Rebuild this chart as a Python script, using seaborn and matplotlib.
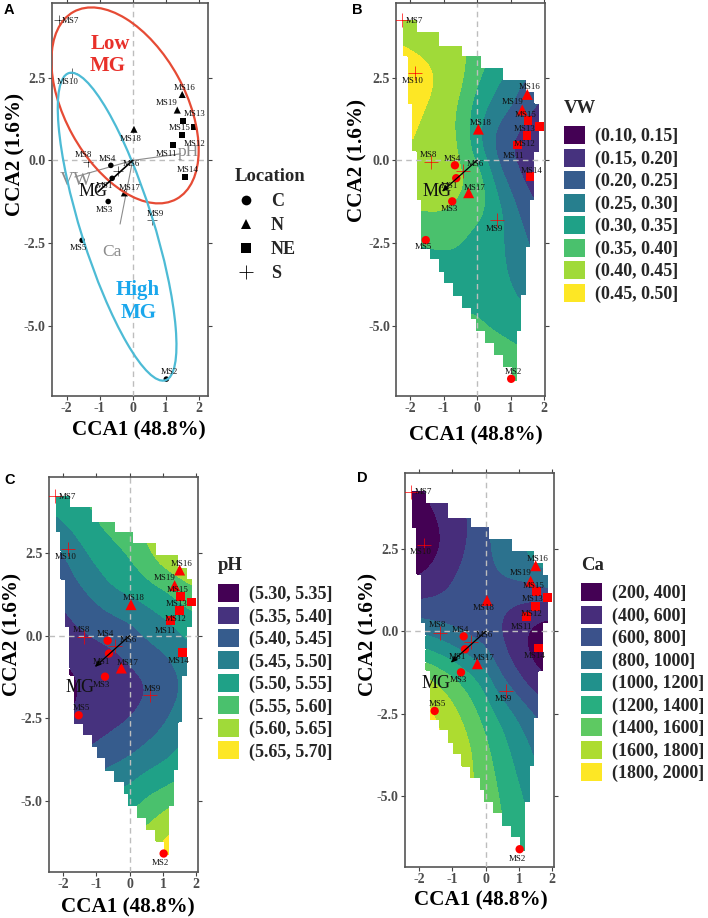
#!/usr/bin/env python3
"""CCA ordination of sampling sites with ordisurf-style surfaces for VW, pH and Ca."""

import numpy as np
import pandas as pd
import matplotlib
matplotlib.use("Agg")
import matplotlib.pyplot as plt
import matplotlib.tri as mtri
from matplotlib.lines import Line2D
from matplotlib.patches import Ellipse, Patch
import seaborn as sns

# sites
sites = ["MS1", "MS2", "MS3", "MS4", "MS5", "MS6", "MS7", "MS8", "MS9", "MS10",
         "MS11", "MS12", "MS13", "MS14", "MS15", "MS16", "MS17", "MS18", "MS19"]
cca1 = [-0.62, 1.02, -0.74, -0.66, -1.53, -0.43, -2.23, -1.36, 0.60, -1.84,
        1.22, 1.49, 1.86, 1.58, 1.52, 1.50, -0.25, 0.04, 1.35]
cca2 = [-0.54, -6.60, -1.24, -0.15, -2.41, -0.31, 4.24, -0.04, -1.80, 2.63,
        0.46, 0.76, 1.02, -0.50, 1.20, 1.99, -0.98, 0.94, 1.52]
location = ["C", "C", "C", "C", "C", "S", "S", "S", "S", "S",
            "NE", "NE", "NE", "NE", "NE", "N", "N", "N", "N"]

# label anchors, one list per panel, same order as sites
labels_a = [(-0.84, -0.78), (1.11, -6.39), (-0.85, -1.50), (-0.77, 0.05), (-1.64, -2.63),
            (-0.05, -0.10), (-1.87, 4.20), (-1.48, 0.17), (0.68, -1.62), (-1.96, 2.37),
            (1.03, 0.19), (1.87, 0.49), (1.87, 1.40), (1.66, -0.29), (1.41, 0.97),
            (1.56, 2.18), (-0.08, -0.84), (-0.06, 0.66), (1.02, 1.72)]
labels_b = [(-0.82, -0.78), (1.10, -6.39), (-0.84, -1.48), (-0.74, 0.04), (-1.60, -2.63),
            (-0.05, -0.10), (-1.86, 4.21), (-1.45, 0.17), (0.53, -2.06), (-1.93, 2.40),
            (1.08, 0.13), (1.42, 0.50), (1.42, 0.96), (1.63, -0.31), (1.45, 1.38),
            (1.56, 2.20), (-0.08, -0.84), (0.12, 1.13), (1.05, 1.76)]
labels_c = [(-0.84, -0.79), (0.93, -6.88), (-0.84, -1.49), (-0.74, 0.05), (-1.45, -2.18),
            (-0.05, -0.12), (-1.87, 4.19), (-1.46, 0.17), (0.68, -1.62), (-1.93, 2.40),
            (1.08, 0.13), (1.39, 0.51), (1.41, 0.95), (1.47, -0.77), (1.44, 1.38),
            (1.56, 2.18), (-0.07, -0.84), (0.11, 1.13), (1.05, 1.75)]
labels_d = [(-0.85, -0.79), (0.94, -6.89), (-0.83, -1.47), (-0.75, 0.05), (-1.45, -2.19),
            (-0.05, -0.11), (-1.87, 4.22), (-1.45, 0.18), (0.53, -2.05), (-1.94, 2.42),
            (1.08, 0.13), (1.38, 0.52), (1.41, 0.97), (1.48, -0.75), (1.43, 1.38),
            (1.56, 2.20), (-0.07, -0.82), (-0.07, 0.70), (1.05, 1.77)]

# environmental vectors
vector_names = ["pH", "VW", "Ca"]
vector_x = [1.45, -1.75, -0.38]
vector_y = [0.20, -0.50, -1.92]
mg_x, mg_y = -1.05, -0.95

# surface nodes
grid_x = [-2.5, -2.0, -1.5, -1.0, -0.5, 0.0, 0.5, 1.0, 1.5, 2.0]
grid_y = [4.5, 3.5, 2.5, 1.5, 0.5, -0.5, -1.5, -2.5, -3.5, -4.5, -5.5, -6.75]

vw_surface = [
    [.430, .425, .420, .415, .410, .390, .360, .340, .310, .290],
    [.450, .440, .432, .425, .412, .382, .350, .328, .300, .280],
    [.495, .485, .465, .440, .415, .360, .320, .280, .245, .220],
    [.475, .465, .445, .420, .390, .320, .280, .250, .210, .180],
    [.460, .450, .437, .420, .395, .310, .240, .195, .170, .155],
    [.445, .440, .432, .425, .410, .385, .290, .230, .185, .160],
    [.400, .402, .405, .405, .385, .365, .330, .275, .225, .190],
    [.340, .345, .350, .352, .348, .330, .320, .285, .255, .220],
    [.330, .332, .335, .338, .340, .335, .320, .297, .270, .240],
    [.345, .345, .345, .345, .345, .345, .330, .315, .300, .285],
    [.375, .375, .375, .375, .375, .370, .362, .353, .345, .340],
    [.400, .400, .400, .398, .395, .392, .388, .380, .370, .365],
]
ph_surface = [
    [5.52, 5.53, 5.545, 5.58, 5.60, 5.63, 5.65, 5.67, 5.69, 5.70],
    [5.49, 5.505, 5.525, 5.55, 5.57, 5.59, 5.62, 5.64, 5.66, 5.68],
    [5.42, 5.445, 5.485, 5.515, 5.535, 5.553, 5.59, 5.63, 5.655, 5.675],
    [5.39, 5.42, 5.447, 5.475, 5.503, 5.52, 5.535, 5.553, 5.578, 5.605],
    [5.38, 5.39, 5.41, 5.425, 5.44, 5.453, 5.475, 5.495, 5.52, 5.54],
    [5.34, 5.36, 5.375, 5.385, 5.395, 5.412, 5.435, 5.447, 5.47, 5.50],
    [5.31, 5.325, 5.35, 5.365, 5.375, 5.385, 5.395, 5.42, 5.447, 5.475],
    [5.34, 5.35, 5.36, 5.375, 5.387, 5.397, 5.42, 5.44, 5.47, 5.49],
    [5.39, 5.392, 5.397, 5.41, 5.425, 5.44, 5.46, 5.48, 5.505, 5.53],
    [5.44, 5.45, 5.46, 5.47, 5.485, 5.50, 5.525, 5.54, 5.56, 5.58],
    [5.48, 5.50, 5.52, 5.535, 5.545, 5.555, 5.585, 5.61, 5.64, 5.66],
    [5.53, 5.55, 5.57, 5.59, 5.61, 5.63, 5.655, 5.68, 5.70, 5.71],
]
ca_surface = [
    [380, 430, 530, 620, 700, 800, 950, 1100, 1250, 1400],
    [210, 280, 390, 510, 595, 770, 900, 1000, 1150, 1300],
    [170, 240, 350, 490, 625, 770, 860, 965, 1100, 1250],
    [400, 440, 520, 610, 690, 740, 785, 815, 830, 930],
    [770, 745, 710, 700, 680, 650, 590, 490, 430, 380],
    [1250, 1210, 1120, 1010, 890, 795, 620, 450, 320, 260],
    [1800, 1720, 1600, 1470, 1300, 1110, 820, 650, 470, 400],
    [2000, 1920, 1780, 1660, 1500, 1310, 1130, 950, 800, 640],
    [1990, 1950, 1870, 1760, 1630, 1435, 1265, 1100, 950, 800],
    [1950, 1900, 1840, 1750, 1640, 1500, 1335, 1185, 1050, 900],
    [1870, 1830, 1780, 1700, 1620, 1525, 1400, 1265, 1130, 1000],
    [1800, 1770, 1720, 1650, 1580, 1500, 1400, 1290, 1170, 1050],
]

vw_levels = [0.10, 0.15, 0.20, 0.25, 0.30, 0.35, 0.40, 0.45, 0.50]
ph_levels = [5.30, 5.35, 5.40, 5.45, 5.50, 5.55, 5.60, 5.65, 5.70]
ca_levels = [200, 400, 600, 800, 1000, 1200, 1400, 1600, 1800, 2000]

# stair-shaped outline of the fitted surface
hull_top = 4.24
hull_left_x = [-2.22, -2.07, -1.93, -1.80, -1.67, -1.40, -1.12, -0.98, -0.72, -0.45, -0.17, -0.04, 0.23, 0.51, 0.78, 1.05]
hull_left_end = [3.15, 1.70, 0.28, -1.20, -2.66, -2.99, -3.36, -3.71, -4.09, -4.44, -4.79, -5.15, -5.51, -5.88, -6.23, -6.65]
hull_right_x = [-1.81, -1.14, -0.45, 0.10, 0.77, 1.45, 1.70, 1.85, 1.70, 1.57, 1.45, 1.31, 1.17]
hull_right_end = [3.88, 3.43, 3.15, 2.78, 2.43, 2.05, 1.70, 0.26, -1.20, -2.61, -4.07, -5.15, -6.65]

W, H = 708, 918
SERIF = "Liberation Serif"
TICK_GREY = "#4d4d4d"

sns.set_theme(style="white")
plt.rcParams["font.family"] = [SERIF, "DejaVu Serif"]
plt.rcParams["axes.unicode_minus"] = False

df = pd.DataFrame({"site": sites, "cca1": cca1, "cca2": cca2, "location": location})
fig = plt.figure(figsize=(W / 100, H / 100), dpi=100, facecolor="white")


def add_panel(left, right, top, bottom, xlim, ylim):
    """Axes placed in pixel coordinates of the final image."""
    ax = fig.add_axes([left / W, 1 - bottom / H, (right - left) / W, (bottom - top) / H])
    ax.set_xlim(*xlim)
    ax.set_ylim(*ylim)
    ax.set_xticks([-2, -1, 0, 1, 2])
    ax.set_xticklabels(["-2", "-1", "0", "1", "2"])
    ax.set_yticks([-5, -2.5, 0, 2.5])
    ax.set_yticklabels(["-5.0", "-2.5", "0.0", "2.5"])
    ax.tick_params(axis="both", which="both", length=3, width=0.8, color="#444444", direction="out",
                   top=True, right=True, bottom=True, left=True, pad=1.5, labelsize=10,
                   labelcolor=TICK_GREY)
    for lab in ax.get_xticklabels() + ax.get_yticklabels():
        lab.set_fontweight("bold")
    for spine in ax.spines.values():
        spine.set_color("#555555")
        spine.set_linewidth(1.2)
    ax.axhline(0, color="#bdbdbd", lw=1.0, ls=(0, (4, 3)), zorder=3)
    ax.axvline(0, color="#bdbdbd", lw=1.0, ls=(0, (4, 3)), zorder=3)
    ax.set_xlabel("")
    ax.set_ylabel("")
    return ax


def blur(z, step, sigma, axis):
    """Gaussian smoothing along one axis, edges held flat."""
    t = np.arange(-3 * sigma, 3 * sigma + step, step)
    kernel = np.exp(-0.5 * (t / sigma) ** 2)
    kernel /= kernel.sum()
    half = len(kernel) // 2
    extra = len(kernel) - 1 - half

    def run(line):
        padded = np.concatenate([np.full(half, line[0]), line, np.full(extra, line[-1])])
        return np.convolve(padded, kernel, mode="valid")

    return np.apply_along_axis(run, axis, z)


def draw_surface(ax, values, levels):
    """Smooth the node table and fill it inside the stair outline."""
    gx, gy = np.meshgrid(grid_x, grid_y)
    tri = mtri.Triangulation(gx.ravel(), gy.ravel())
    interp = mtri.CubicTriInterpolator(tri, np.asarray(values, float).ravel(), kind="geom")
    fx = np.arange(-2.45, 1.98, 0.01)
    fy = np.arange(-6.7, 4.3, 0.012)
    mx, my = np.meshgrid(fx, fy)
    z = np.ma.filled(interp(mx, my), np.nan)
    z = np.where(np.isnan(z), np.nanmean(z), z)
    z = blur(z, 0.01, 0.22, 1)
    z = blur(z, 0.012, 0.42, 0)

    left = np.append(hull_left_x, np.inf)[np.searchsorted(-np.array(hull_left_end), -my)]
    right = np.append(hull_right_x, -np.inf)[np.searchsorted(-np.array(hull_right_end), -my)]
    outside = (mx < left) | (mx > right) | (my > hull_top)
    z = np.ma.masked_where(outside, np.clip(z, levels[0] + 1e-6, levels[-1] - 1e-6))

    n = len(levels) - 1
    colors = plt.get_cmap("viridis", n)(range(n))
    ax.contourf(mx, my, z, levels=levels, colors=colors, zorder=1)
    return colors


def draw_sites(ax, color, sizes, plus_size, plus_lw):
    """Site markers: filled shapes and crosses cannot share one seaborn style map."""
    filled = df[df["location"] != "S"]
    sns.scatterplot(data=filled, x="cca1", y="cca2", style="location", size="location", sizes=sizes,
                    markers={"C": "o", "N": "^", "NE": "s"}, color=color,
                    linewidth=0, legend=False, ax=ax, zorder=4)
    sns.scatterplot(data=df[df["location"] == "S"], x="cca1", y="cca2", marker="+",
                    color=color, s=plus_size, linewidth=plus_lw, legend=False, ax=ax, zorder=4)
    ax.set_xlabel("")
    ax.set_ylabel("")


def draw_labels(ax, anchors):
    for name, (lx, ly) in zip(sites, anchors):
        ax.text(lx, ly, name, fontsize=6.4, color="#111111", ha="center", va="center", zorder=6)


def draw_mg(ax, text_x, text_y):
    ax.annotate("", xy=(mg_x, mg_y), xytext=(0, 0), zorder=5,
                arrowprops=dict(arrowstyle="-|>,head_width=0.12,head_length=0.3", color="black", lw=0.9,
                                shrinkA=0, shrinkB=0))
    ax.text(text_x, text_y, "MG", fontsize=13, color="#111111", ha="center", va="center", zorder=6)


def surface_legend(title, levels, colors, box_x, box_top, fmt):
    labels = [f"({fmt.format(a)}, {fmt.format(b)}]" for a, b in zip(levels[:-1], levels[1:])]
    handles = [Patch(facecolor=c, edgecolor="none", label=t) for c, t in zip(colors, labels)]
    fs = 13
    px = fs * 100 / 72
    leg = fig.legend(handles=handles, title=title, loc="upper left",
                     bbox_to_anchor=(box_x / W, 1 - (box_top - 26) / H), frameon=False, borderpad=0,
                     borderaxespad=0, handlelength=21 / px, handleheight=20.5 / px, labelspacing=0.19,
                     handletextpad=0.58, prop={"family": SERIF, "weight": "bold", "size": fs},
                     title_fontproperties={"family": SERIF, "weight": "bold", "size": 13.5},
                     alignment="left")
    # gap between title and first key is tied to labelspacing otherwise
    leg._legend_box.sep = 7
    return leg


def axis_titles(xx, xy, yx, yy):
    fig.text(xx / W, 1 - xy / H, "CCA1 (48.8%)", fontsize=15.2, fontweight="bold", color="black",
             ha="center", va="center")
    fig.text(yx / W, 1 - yy / H, "CCA2 (1.6%)", fontsize=15.2, fontweight="bold", color="black",
             ha="center", va="center", rotation=90)


def panel_letter(x, y, letter):
    fig.text(x / W, 1 - y / H, letter, fontsize=10.5, fontweight="bold", family="Liberation Sans",
             color="black", ha="center", va="center")


RED_SIZES = {"C": 36, "N": 62, "NE": 40}

# Panel A
ax_a = add_panel(51.7, 208.3, 2.7, 396, (-2.45, 2.29), (-7.11, 4.76))
ax_a.add_patch(Ellipse((-0.23, 1.66), 6.45, 3.64, angle=118.9, fill=False, edgecolor="#E64B35", lw=1.6, zorder=5))
ax_a.add_patch(Ellipse((-0.47, -2.0), 9.72, 2.19, angle=107.5, fill=False, edgecolor="#4DBBD5", lw=1.6, zorder=5))
for name, vx, vy in zip(vector_names, vector_x, vector_y):
    ax_a.plot([0, vx], [0, vy], color="#8c8c8c", lw=0.8, zorder=3)
ax_a.text(1.68, 0.24, "pH", fontsize=12.5, color="#8c8c8c", ha="center", va="center")
ax_a.text(-1.7, -0.62, "VW", fontsize=14, color="#8c8c8c", ha="center", va="center")
ax_a.text(-0.63, -2.76, "Ca", fontsize=12.5, color="#8c8c8c", ha="center", va="center")
ax_a.annotate("", xy=(mg_x, mg_y), xytext=(0, 0), zorder=5,
              arrowprops=dict(arrowstyle="-", color="black", lw=1.2, shrinkA=0, shrinkB=0))
ax_a.text(-1.21, -0.95, "MG", fontsize=13, color="#111111", ha="center", va="center", zorder=6)
draw_sites(ax_a, "black", {"C": 16, "N": 26, "NE": 20}, 45, 0.4)
draw_labels(ax_a, labels_a)
ax_a.text(-0.68, 3.52, "Low", fontsize=15, fontweight="bold", color="#E8302A", ha="center", va="center", zorder=6)
ax_a.text(-0.75, 2.85, "MG", fontsize=15, fontweight="bold", color="#E8302A", ha="center", va="center", zorder=6)
ax_a.text(0.16, -3.92, "High", fontsize=15, fontweight="bold", color="#1AA7EC", ha="center", va="center", zorder=6)
ax_a.text(0.18, -4.62, "MG", fontsize=15, fontweight="bold", color="#1AA7EC", ha="center", va="center", zorder=6)
axis_titles(139, 430, 15, 155)
panel_letter(9, 10, "A")

loc_handles = [Line2D([], [], marker=m, color="black", ls="none", ms=ms, mew=mw, label=t)
               for m, ms, mw, t in [("o", 7, 0, "C"), ("^", 7.5, 0, "N"), ("s", 6.5, 0, "NE"), ("+", 10, 0.6, "S")]]
loc_legend = fig.legend(handles=loc_handles, title="Location", loc="upper left", bbox_to_anchor=(235 / W, 1 - 168 / H),
                        frameon=False, borderpad=0, borderaxespad=0, labelspacing=0.38, handletextpad=0.8,
                        handlelength=1.2, prop={"family": SERIF, "weight": "bold", "size": 13},
                        title_fontproperties={"family": SERIF, "weight": "bold", "size": 13.5}, alignment="left")
loc_legend._legend_box.sep = 6

# Panel B
ax_b = add_panel(396.3, 545, 2.7, 395.7, (-2.41, 2.03), (-7.11, 4.76))
vw_colors = draw_surface(ax_b, vw_surface, vw_levels)
draw_sites(ax_b, "#ff0000", RED_SIZES, 110, 0.5)
draw_mg(ax_b, -1.2, -0.93)
draw_labels(ax_b, labels_b)
axis_titles(476, 435, 357, 160)
panel_letter(357, 10, "B")
surface_legend("VW", vw_levels, vw_colors, 564, 125.7, "{:.2f}")

# Panel C
ax_c = add_panel(49, 198.3, 477.3, 871.7, (-2.42, 2.06), (-7.15, 4.80))
ph_colors = draw_surface(ax_c, ph_surface, ph_levels)
draw_sites(ax_c, "#ff0000", RED_SIZES, 110, 0.5)
draw_mg(ax_c, -1.49, -1.57)
draw_labels(ax_c, labels_c)
axis_titles(128, 907, 12, 635)
panel_letter(10, 480, "C")
surface_legend("pH", ph_levels, ph_colors, 218, 583.3, "{:.2f}")

# Panel D
ax_d = add_panel(405, 554.3, 472.7, 866.7, (-2.42, 2.06), (-7.13, 4.81))
ca_colors = draw_surface(ax_d, ca_surface, ca_levels)
draw_sites(ax_d, "#ff0000", RED_SIZES, 110, 0.5)
draw_mg(ax_d, -1.49, -1.59)
draw_labels(ax_d, labels_d)
axis_titles(481, 900, 368, 635)
panel_letter(362, 478, "D")
surface_legend("Ca", ca_levels, ca_colors, 580.7, 582.7, "{:.0f}")

fig.savefig("out.png", dpi=100)
